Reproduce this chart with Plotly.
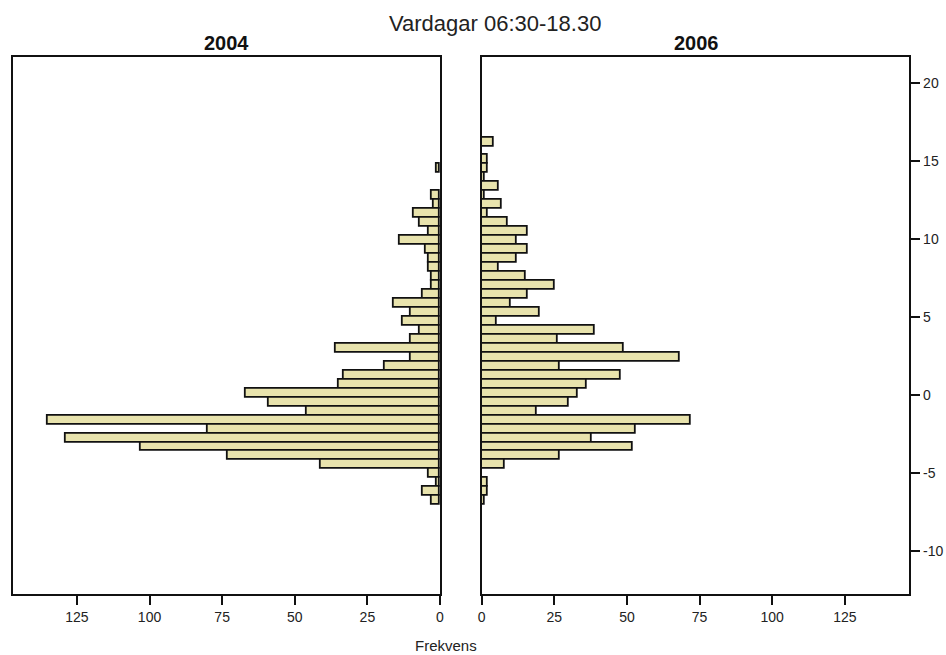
import numpy as np
import plotly.graph_objects as go

# Histogram bins (y variable), listed from the top bin downwards
bin_top_edge = 16.51
bin_width = 0.5746
n_bins = 41

counts_2004 = [0, 0, 0, 1, 0, 0, 3, 2, 9, 7, 4, 14, 5, 4, 4, 3, 3, 6, 16, 10,
               13, 7, 10, 36, 10, 19, 33, 35, 67, 59, 46, 135, 80, 129, 103, 73, 41, 4, 1, 6, 3]
counts_2006 = [4, 0, 2, 2, 1, 6, 1, 7, 2, 9, 16, 12, 16, 12, 6, 15, 25, 16, 10, 20,
               5, 39, 26, 49, 68, 27, 48, 36, 33, 30, 19, 72, 53, 38, 52, 27, 8, 0, 2, 2, 1]

x_ticks = [0, 25, 50, 75, 100, 125]
y_ticks = [-10, -5, 0, 5, 10, 15, 20]

title_text = "Vardagar 06:30-18.30"
panel_titles = ["2004", "2006"]
x_title = "Frekvens"

bin_centers = bin_top_edge - (np.arange(n_bins) + 0.5) * bin_width
# empty bins are not drawn
bars_2004 = [c if c > 0 else None for c in counts_2004]
bars_2006 = [c if c > 0 else None for c in counts_2006]

W, H = 946, 655
def px(x):
    return x / W
def py(y):
    return 1 - y / H

bar_fill = "#e8e3ad"
font_family = "Liberation Sans, Arial, sans-serif"

fig = go.Figure()
fig.add_trace(go.Bar(x=bars_2004, y=bin_centers, orientation="h", width=bin_width,
                     marker=dict(color=bar_fill, line=dict(color="#111111", width=1.8)),
                     xaxis="x", yaxis="y", showlegend=False))
fig.add_trace(go.Bar(x=bars_2006, y=bin_centers, orientation="h", width=bin_width,
                     marker=dict(color=bar_fill, line=dict(color="#111111", width=1.8)),
                     xaxis="x2", yaxis="y2", showlegend=False))

y_range = [-12.75, 21.67]
y_dom = [py(594), py(56.7)]
common_x = dict(showline=True, mirror=True, linecolor="#111111", linewidth=2,
                ticks="outside", ticklen=9, tickwidth=1.5, tickcolor="#111111",
                tickvals=x_ticks, showgrid=False, zeroline=False,
                tickfont=dict(family=font_family, size=14, color="#222222"),
                automargin=False)

fig.update_layout(
    width=W, height=H,
    margin=dict(l=0, r=0, t=0, b=0),
    paper_bgcolor="white", plot_bgcolor="white",
    bargap=0,
    xaxis=dict(domain=[px(12.7), px(440)], range=[147.1, 0], anchor="y", **common_x),
    xaxis2=dict(domain=[px(481.7), px(909.3)], range=[0, 147.2], anchor="y2", **common_x),
    yaxis=dict(domain=y_dom, range=y_range, anchor="x", showline=True, mirror=True,
               linecolor="#111111", linewidth=2, showticklabels=False, ticks="",
               showgrid=False, zeroline=False, automargin=False),
    yaxis2=dict(domain=y_dom, range=y_range, anchor="x2", side="right",
                showline=True, mirror=True, linecolor="#111111", linewidth=2,
                ticks="outside", ticklen=9, tickwidth=1.5, tickcolor="#111111",
                tickvals=y_ticks, ticktext=[str(v) for v in y_ticks],
                showgrid=False, zeroline=False, automargin=False,
                tickfont=dict(family=font_family, size=14, color="#222222")),
    annotations=[
        dict(text=title_text, x=px(495), y=py(24), xref="paper", yref="paper",
             showarrow=False, xanchor="center", yanchor="middle",
             font=dict(family=font_family, size=22, color="#222222")),
        dict(text="<b>" + panel_titles[0] + "</b>", x=px(226.7), y=py(42.5), xref="paper", yref="paper",
             showarrow=False, xanchor="center", yanchor="middle",
             font=dict(family=font_family, size=20, color="#111111")),
        dict(text="<b>" + panel_titles[1] + "</b>", x=px(696.7), y=py(42.5), xref="paper", yref="paper",
             showarrow=False, xanchor="center", yanchor="middle",
             font=dict(family=font_family, size=20, color="#111111")),
        dict(text=x_title, x=px(446), y=py(645), xref="paper", yref="paper",
             showarrow=False, xanchor="center", yanchor="middle",
             font=dict(family=font_family, size=15, color="#222222")),
    ],
)

fig.write_html("out.html")
